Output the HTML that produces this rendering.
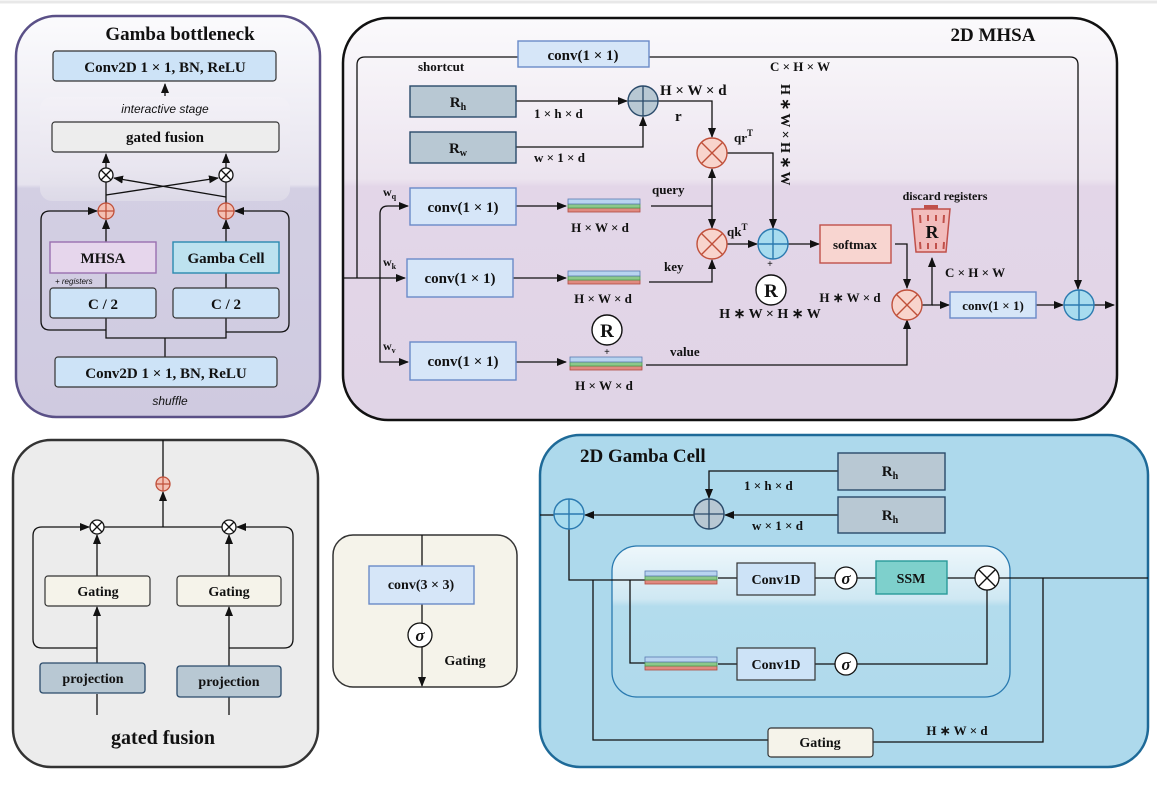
<!DOCTYPE html>
<html><head><meta charset="utf-8"><style>
html,body{margin:0;padding:0;background:#fff}
svg{display:block}
text{font-family:"Liberation Serif",serif;font-weight:bold;fill:#111}
.it{font-family:"Liberation Sans",sans-serif;font-style:italic;font-weight:normal}
</style></head><body>
<svg width="1157" height="798" viewBox="0 0 1157 798" xmlns="http://www.w3.org/2000/svg">
<defs>
<marker id="a" markerWidth="10" markerHeight="8" refX="9" refY="4" orient="auto" markerUnits="userSpaceOnUse"><path d="M0,0 L10,4 L0,8z" fill="#111"/></marker>
<linearGradient id="g1" x1="0" y1="0" x2="0" y2="1"><stop offset="0" stop-color="#fbfbfd"/><stop offset="0.42" stop-color="#e6e3ee"/><stop offset="0.43" stop-color="#d3cfe3"/><stop offset="1" stop-color="#cfcae0"/></linearGradient>
<linearGradient id="g2" x1="0" y1="0" x2="0" y2="1"><stop offset="0" stop-color="#fbfafc"/><stop offset="0.4" stop-color="#ece4ef"/><stop offset="0.42" stop-color="#e3d6e8"/><stop offset="1" stop-color="#e0d4e6"/></linearGradient>
<linearGradient id="g3" x1="0" y1="0" x2="0" y2="1"><stop offset="0" stop-color="#eef7fb"/><stop offset="0.35" stop-color="#cfe8f3"/><stop offset="0.4" stop-color="#b3dced"/><stop offset="1" stop-color="#b0daec"/></linearGradient>
<linearGradient id="g4" x1="0" y1="0" x2="0" y2="1"><stop offset="0" stop-color="#f3f1f7"/><stop offset="0.7" stop-color="#e8e5ef"/><stop offset="1" stop-color="#dedbe8"/></linearGradient>
<g id="stk"><rect x="0" y="9" width="72" height="4" fill="#e08a80" stroke="#b04a40" stroke-width="0.8"/><rect x="0" y="5" width="72" height="4" fill="#8cc88a" stroke="#4a9a4a" stroke-width="0.8"/><rect x="0" y="0" width="72" height="5" fill="#b8d4f0" stroke="#5a7ab0" stroke-width="0.8"/></g>
</defs>
<rect width="1157" height="798" fill="#fff"/>
<line x1="0" y1="2" x2="1157" y2="2" stroke="#e8e8e8" stroke-width="3"/>

<!-- Panel 1 Gamba bottleneck -->
<rect x="16" y="16" width="304" height="401" rx="40" fill="url(#g1)" stroke="#5a5087" stroke-width="2.5"/>
<text x="180" y="40" font-size="19" text-anchor="middle">Gamba bottleneck</text>
<rect x="53" y="51" width="223" height="30" rx="3" fill="#cde3f7" stroke="#333" stroke-width="1.2"/>
<text x="165" y="72" font-size="15" text-anchor="middle">Conv2D 1 × 1,  BN, ReLU</text>
<line x1="165" y1="96" x2="165" y2="84" stroke="#111" stroke-width="1.3" marker-end="url(#a)"/>
<rect x="40" y="97" width="250" height="104" rx="12" fill="url(#g4)" opacity="0.9"/>
<text x="165" y="113" font-size="12" class="it" text-anchor="middle">interactive stage</text>
<rect x="52" y="122" width="227" height="30" rx="3" fill="#ededed" stroke="#333" stroke-width="1.2"/>
<text x="165" y="142" font-size="15" text-anchor="middle">gated fusion</text>
<g stroke="#111" stroke-width="1.3" fill="none">
<line x1="106" y1="168" x2="106" y2="154" marker-end="url(#a)"/>
<line x1="226" y1="168" x2="226" y2="154" marker-end="url(#a)"/>
<line x1="106" y1="203" x2="106" y2="182"/>
<line x1="226" y1="203" x2="226" y2="182"/>
<line x1="106" y1="195" x2="218" y2="178" marker-end="url(#a)"/>
<line x1="226" y1="197" x2="114" y2="178" marker-end="url(#a)"/>
<line x1="106" y1="242" x2="106" y2="220" marker-end="url(#a)"/>
<line x1="226" y1="242" x2="226" y2="220" marker-end="url(#a)"/>
<line x1="106" y1="273" x2="106" y2="288"/><line x1="226" y1="273" x2="226" y2="288"/>
<path d="M106,318 V338 H226 V318 M165,338 V357"/>
<path d="M106,330 H50 Q41,330 41,321 V220 Q41,211 50,211 H97" marker-end="url(#a)"/>
<path d="M226,332 H280 Q289,332 289,323 V220 Q289,211 280,211 H235" marker-end="url(#a)"/>
</g>
<g fill="#fff" stroke="#111" stroke-width="1.3"><circle cx="106" cy="175" r="7"/><circle cx="226" cy="175" r="7"/></g>
<path d="M101,170 l10,10 M111,170 l-10,10 M221,170 l10,10 M231,170 l-10,10" stroke="#111" stroke-width="1.3"/>
<g fill="#f4c0b4" stroke="#c0503a" stroke-width="1.3"><circle cx="106" cy="211" r="8"/><circle cx="226" cy="211" r="8"/></g>
<path d="M98,211 h16 M106,203 v16 M218,211 h16 M226,203 v16" stroke="#c0503a" stroke-width="1.3"/>
<rect x="50" y="242" width="106" height="31" fill="#e6d6ec" stroke="#9a6fb0" stroke-width="1.4"/>
<text x="103" y="263" font-size="15" text-anchor="middle">MHSA</text>
<rect x="173" y="242" width="106" height="31" fill="#bde2ef" stroke="#2a8ab0" stroke-width="1.4"/>
<text x="226" y="263" font-size="15" text-anchor="middle">Gamba Cell</text>
<text x="55" y="284" font-size="8" class="it">+ registers</text>
<rect x="50" y="288" width="106" height="30" rx="3" fill="#cde3f7" stroke="#333" stroke-width="1.2"/>
<text x="103" y="309" font-size="15" text-anchor="middle">C / 2</text>
<rect x="173" y="288" width="106" height="30" rx="3" fill="#cde3f7" stroke="#333" stroke-width="1.2"/>
<text x="226" y="309" font-size="15" text-anchor="middle">C / 2</text>
<rect x="55" y="357" width="222" height="30" rx="3" fill="#cde3f7" stroke="#333" stroke-width="1.2"/>
<text x="166" y="378" font-size="15" text-anchor="middle">Conv2D 1 × 1,  BN, ReLU</text>
<text x="170" y="405" font-size="12" class="it" text-anchor="middle">shuffle</text>

<!-- Panel 2 2D MHSA -->
<rect x="343" y="18" width="774" height="402" rx="45" fill="url(#g2)" stroke="#111" stroke-width="2.5"/>
<text x="993" y="41" font-size="19" text-anchor="middle">2D MHSA</text>
<g stroke="#111" stroke-width="1.3" fill="none">
<path d="M518,57 H365 Q357,57 357,65 V278"/>
<path d="M649,57 H1070 Q1078,57 1078,65 V289" marker-end="url(#a)"/>
<line x1="343" y1="278" x2="405" y2="278" marker-end="url(#a)"/>
<path d="M380,278 V214 Q380,206 388,206 H408" marker-end="url(#a)"/>
<path d="M380,278 V362 H408" marker-end="url(#a)"/>
<line x1="516" y1="101" x2="627" y2="101" marker-end="url(#a)"/>
<path d="M516,147 H643 V117" marker-end="url(#a)"/>
<path d="M658,101 H712 V137" marker-end="url(#a)"/>
<path d="M727,153 H773 V228" marker-end="url(#a)"/>
<line x1="516" y1="206" x2="566" y2="206" marker-end="url(#a)"/>
<line x1="513" y1="278" x2="566" y2="278" marker-end="url(#a)"/>
<line x1="516" y1="362" x2="566" y2="362" marker-end="url(#a)"/>
<path d="M651,206 H712"/>
<line x1="712" y1="206" x2="712" y2="169" marker-end="url(#a)"/>
<line x1="712" y1="206" x2="712" y2="228" marker-end="url(#a)"/>
<path d="M649,282 H712 V260" marker-end="url(#a)"/>
<line x1="727" y1="244" x2="757" y2="244" marker-end="url(#a)"/>
<line x1="788" y1="244" x2="819" y2="244" marker-end="url(#a)"/>
<path d="M895,244 H907 V288" marker-end="url(#a)"/>
<path d="M646,365 H907 V320" marker-end="url(#a)"/>
<path d="M922,305 H932 V258" marker-end="url(#a)"/>
<line x1="932" y1="305" x2="949" y2="305" marker-end="url(#a)"/>
<line x1="1036" y1="305" x2="1063" y2="305" marker-end="url(#a)"/>
<line x1="1094" y1="305" x2="1114" y2="305" marker-end="url(#a)"/>
</g>
<rect x="518" y="41" width="131" height="26" fill="#d6e6f8" stroke="#6a8ac8" stroke-width="1.4"/>
<text x="583" y="60" font-size="15" text-anchor="middle">conv(1 × 1)</text>
<text x="418" y="71" font-size="13">shortcut</text>
<text x="770" y="71" font-size="13">C × H × W</text>
<rect x="410" y="86" width="106" height="31" fill="#b8c8d3" stroke="#2a4a6a" stroke-width="1.4"/>
<text x="458" y="107" font-size="15" text-anchor="middle">R<tspan font-size="10" dy="3">h</tspan></text>
<rect x="410" y="132" width="106" height="31" fill="#b8c8d3" stroke="#2a4a6a" stroke-width="1.4"/>
<text x="458" y="153" font-size="15" text-anchor="middle">R<tspan font-size="10" dy="3">w</tspan></text>
<text x="534" y="118" font-size="13">1 × h × d</text>
<text x="534" y="162" font-size="13">w × 1 × d</text>
<circle cx="643" cy="101" r="15" fill="#b8c8d3" stroke="#2a4a6a" stroke-width="1.4"/>
<path d="M628,101 h30 M643,86 v30" stroke="#2a4a6a" stroke-width="1.3"/>
<text x="660" y="95" font-size="15">H × W × d</text>
<text x="675" y="121" font-size="15">r</text>
<text x="734" y="142" font-size="13">qr<tspan font-size="9" dy="-6">T</tspan></text>
<text transform="translate(781,84) rotate(90)" font-size="14">H ∗ W × H ∗ W</text>
<g fill="#f8d4cc" stroke="#c0503a" stroke-width="1.4"><circle cx="712" cy="153" r="15"/><circle cx="712" cy="244" r="15"/><circle cx="907" cy="305" r="15"/></g>
<path d="M701,142 l22,22 M723,142 l-22,22 M701,233 l22,22 M723,233 l-22,22 M896,294 l22,22 M918,294 l-22,22" stroke="#c0503a" stroke-width="1.4"/>
<circle cx="773" cy="244" r="15" fill="#a8dcef" stroke="#2a7ab0" stroke-width="1.4"/>
<path d="M758,244 h30 M773,229 v30" stroke="#2a7ab0" stroke-width="1.4"/>
<text x="770" y="267" font-size="10" font-weight="normal" text-anchor="middle">+</text>
<text x="727" y="236" font-size="13">qk<tspan font-size="9" dy="-6">T</tspan></text>
<rect x="410" y="188" width="106" height="37" fill="#d6e6f8" stroke="#6a8ac8" stroke-width="1.4"/>
<text x="463" y="212" font-size="15" text-anchor="middle">conv(1 × 1)</text>
<rect x="407" y="259" width="106" height="38" fill="#d6e6f8" stroke="#6a8ac8" stroke-width="1.4"/>
<text x="460" y="283" font-size="15" text-anchor="middle">conv(1 × 1)</text>
<rect x="410" y="342" width="106" height="38" fill="#d6e6f8" stroke="#6a8ac8" stroke-width="1.4"/>
<text x="463" y="366" font-size="15" text-anchor="middle">conv(1 × 1)</text>
<text x="383" y="196" font-size="12">w<tspan font-size="8" dy="3">q</tspan></text>
<text x="383" y="266" font-size="12">w<tspan font-size="8" dy="3">k</tspan></text>
<text x="383" y="350" font-size="12">w<tspan font-size="8" dy="3">v</tspan></text>
<use href="#stk" x="568" y="199"/><use href="#stk" x="568" y="271"/><use href="#stk" x="570" y="357"/>
<text x="600" y="232" font-size="13" text-anchor="middle">H × W × d</text>
<text x="603" y="303" font-size="13" text-anchor="middle">H × W × d</text>
<text x="604" y="390" font-size="13" text-anchor="middle">H × W × d</text>
<text x="652" y="194" font-size="13">query</text>
<text x="664" y="271" font-size="13">key</text>
<text x="670" y="356" font-size="13">value</text>
<circle cx="771" cy="290" r="15" fill="#fff" stroke="#111" stroke-width="1.4"/>
<text x="771" y="297" font-size="19" text-anchor="middle">R</text>
<text x="770" y="318" font-size="14" text-anchor="middle">H ∗ W × H ∗ W</text>
<circle cx="607" cy="330" r="15" fill="#fff" stroke="#111" stroke-width="1.4"/>
<text x="607" y="337" font-size="19" text-anchor="middle">R</text>
<text x="607" y="355" font-size="10" font-weight="normal" text-anchor="middle">+</text>
<rect x="820" y="225" width="71" height="38" fill="#f8d5d0" stroke="#c0504a" stroke-width="1.4"/>
<text x="855" y="249" font-size="13" text-anchor="middle">softmax</text>
<text x="850" y="302" font-size="13" text-anchor="middle">H ∗ W × d</text>
<text x="945" y="200" font-size="12" text-anchor="middle">discard registers</text>
<path d="M912,209 H950 L946,252 H916 Z" fill="#f2bcbc" stroke="#c0504a" stroke-width="1.5"/>
<rect x="924" y="205" width="14" height="4" fill="#c0504a"/>
<path d="M920,215 l0.5,8 M944,215 l-0.5,8 M920,242 l0.5,7 M944,242 l-0.5,7 M928,215 v6 M936,215 v6 M928,243 v6 M936,243 v6" stroke="#c0504a" stroke-width="2"/>
<text x="932" y="238" font-size="18" text-anchor="middle">R</text>
<text x="945" y="277" font-size="13">C × H × W</text>
<rect x="950" y="292" width="86" height="26" fill="#d6e6f8" stroke="#6a8ac8" stroke-width="1.4"/>
<text x="993" y="310" font-size="13" text-anchor="middle">conv(1 × 1)</text>
<circle cx="1079" cy="305" r="15" fill="#a8dcef" stroke="#2a7ab0" stroke-width="1.4"/>
<path d="M1064,305 h30 M1079,290 v30" stroke="#2a7ab0" stroke-width="1.4"/>

<!-- Panel 3 gated fusion -->
<rect x="13" y="440" width="305" height="327" rx="38" fill="#ececec" stroke="#333" stroke-width="2.5"/>
<g stroke="#111" stroke-width="1.3" fill="none">
<line x1="163" y1="440" x2="163" y2="477"/>
<line x1="163" y1="527" x2="163" y2="492" marker-end="url(#a)"/>
<line x1="104" y1="527" x2="222" y2="527"/>
<line x1="97" y1="663" x2="97" y2="607" marker-end="url(#a)"/>
<line x1="97" y1="576" x2="97" y2="535" marker-end="url(#a)"/>
<line x1="229" y1="666" x2="229" y2="607" marker-end="url(#a)"/>
<line x1="229" y1="576" x2="229" y2="535" marker-end="url(#a)"/>
<path d="M97,648 H42 Q33,648 33,639 V536 Q33,527 42,527 H89" marker-end="url(#a)"/>
<path d="M229,648 H284 Q293,648 293,639 V536 Q293,527 284,527 H237" marker-end="url(#a)"/>
<line x1="97" y1="715" x2="97" y2="694"/><line x1="229" y1="715" x2="229" y2="697"/>
</g>
<circle cx="163" cy="484" r="7" fill="#f4c0b4" stroke="#c0503a" stroke-width="1.3"/>
<path d="M156,484 h14 M163,477 v14" stroke="#c0503a" stroke-width="1.2"/>
<g fill="#fff" stroke="#111" stroke-width="1.3"><circle cx="97" cy="527" r="7"/><circle cx="229" cy="527" r="7"/></g>
<path d="M92,522 l10,10 M102,522 l-10,10 M224,522 l10,10 M234,522 l-10,10" stroke="#111" stroke-width="1.3"/>
<rect x="45" y="576" width="105" height="30" rx="3" fill="#f5f3ea" stroke="#333" stroke-width="1.2"/>
<text x="98" y="596" font-size="14" text-anchor="middle">Gating</text>
<rect x="177" y="576" width="104" height="30" rx="3" fill="#f5f3ea" stroke="#333" stroke-width="1.2"/>
<text x="229" y="596" font-size="14" text-anchor="middle">Gating</text>
<rect x="40" y="663" width="105" height="30" rx="3" fill="#b8c8d3" stroke="#2a4a6a" stroke-width="1.3"/>
<text x="93" y="683" font-size="14" text-anchor="middle">projection</text>
<rect x="177" y="666" width="104" height="31" rx="3" fill="#b8c8d3" stroke="#2a4a6a" stroke-width="1.3"/>
<text x="229" y="686" font-size="14" text-anchor="middle">projection</text>
<text x="163" y="744" font-size="20" text-anchor="middle">gated fusion</text>

<!-- Panel 4 Gating -->
<rect x="333" y="535" width="184" height="152" rx="20" fill="#f5f3ea" stroke="#333" stroke-width="1.5"/>
<line x1="422" y1="535" x2="422" y2="566" stroke="#111" stroke-width="1.3"/>
<line x1="422" y1="604" x2="422" y2="623" stroke="#111" stroke-width="1.3"/>
<line x1="422" y1="647" x2="422" y2="686" stroke="#111" stroke-width="1.3" marker-end="url(#a)"/>
<rect x="369" y="566" width="105" height="38" fill="#d6e6f8" stroke="#6a8ac8" stroke-width="1.4"/>
<text x="421" y="589" font-size="14" text-anchor="middle">conv(3 × 3)</text>
<circle cx="420" cy="635" r="12" fill="#fff" stroke="#111" stroke-width="1.3"/>
<text x="420" y="641" font-size="17" font-style="italic" font-weight="normal" text-anchor="middle">σ</text>
<text x="465" y="665" font-size="14" text-anchor="middle">Gating</text>

<!-- Panel 5 2D Gamba Cell -->
<rect x="540" y="435" width="608" height="332" rx="40" fill="#add9ec" stroke="#1e6a98" stroke-width="2.5"/>
<text x="580" y="462" font-size="19">2D Gamba Cell</text>
<rect x="612" y="546" width="398" height="151" rx="25" fill="url(#g3)" stroke="#2a7ab0" stroke-width="1.3"/>
<g stroke="#111" stroke-width="1.3" fill="none">
<path d="M838,471 H709 V498" marker-end="url(#a)"/>
<line x1="838" y1="515" x2="725" y2="515" marker-end="url(#a)"/>
<line x1="694" y1="515" x2="585" y2="515" marker-end="url(#a)"/>
<line x1="554" y1="515" x2="540" y2="515"/>
<path d="M569,529 V580 H645"/>
<path d="M630,580 V663 H657"/>
<path d="M593,580 V740 H768"/>
<line x1="718" y1="578" x2="737" y2="578"/><line x1="718" y1="664" x2="737" y2="664"/>
<line x1="815" y1="578" x2="835" y2="578"/><line x1="857" y1="578" x2="876" y2="578"/>
<line x1="947" y1="578" x2="975" y2="578"/>
<line x1="815" y1="664" x2="835" y2="664"/>
<path d="M857,664 H987 V590"/>
<line x1="999" y1="578" x2="1148" y2="578"/>
<path d="M873,742 H1043 V578"/>
</g>
<rect x="838" y="453" width="107" height="37" fill="#b8c8d3" stroke="#2a4a6a" stroke-width="1.4"/>
<text x="890" y="476" font-size="15" text-anchor="middle">R<tspan font-size="10" dy="3">h</tspan></text>
<rect x="838" y="497" width="107" height="36" fill="#b8c8d3" stroke="#2a4a6a" stroke-width="1.4"/>
<text x="890" y="520" font-size="15" text-anchor="middle">R<tspan font-size="10" dy="3">h</tspan></text>
<text x="744" y="490" font-size="13">1 × h × d</text>
<text x="752" y="530" font-size="13">w × 1 × d</text>
<circle cx="709" cy="514" r="15" fill="#b8c8d3" stroke="#2a4a6a" stroke-width="1.4"/>
<path d="M694,514 h30 M709,499 v30" stroke="#2a4a6a" stroke-width="1.3"/>
<circle cx="569" cy="514" r="15" fill="#a8dcef" stroke="#2a7ab0" stroke-width="1.4"/>
<path d="M554,514 h30 M569,499 v30" stroke="#2a7ab0" stroke-width="1.4"/>
<use href="#stk" x="645" y="571"/><use href="#stk" x="645" y="657"/>
<rect x="737" y="563" width="78" height="32" fill="#cde3f7" stroke="#333" stroke-width="1.2"/>
<text x="776" y="584" font-size="14" text-anchor="middle">Conv1D</text>
<rect x="737" y="648" width="78" height="32" fill="#cde3f7" stroke="#333" stroke-width="1.2"/>
<text x="776" y="669" font-size="14" text-anchor="middle">Conv1D</text>
<g fill="#fff" stroke="#111" stroke-width="1.3"><circle cx="846" cy="578" r="11"/><circle cx="846" cy="664" r="11"/><circle cx="987" cy="578" r="12"/></g>
<text x="846" y="584" font-size="17" font-style="italic" font-weight="normal" text-anchor="middle">σ</text>
<text x="846" y="670" font-size="17" font-style="italic" font-weight="normal" text-anchor="middle">σ</text>
<path d="M979,570 l16,16 M995,570 l-16,16" stroke="#111" stroke-width="1.4"/>
<rect x="876" y="561" width="71" height="33" fill="#7ed0cc" stroke="#2a9a9a" stroke-width="1.4"/>
<text x="911" y="583" font-size="14" text-anchor="middle">SSM</text>
<rect x="768" y="728" width="105" height="29" rx="3" fill="#f5f3ea" stroke="#333" stroke-width="1.2"/>
<text x="820" y="747" font-size="14" text-anchor="middle">Gating</text>
<text x="957" y="735" font-size="13" text-anchor="middle">H ∗ W × d</text>
</svg>
</body></html>
